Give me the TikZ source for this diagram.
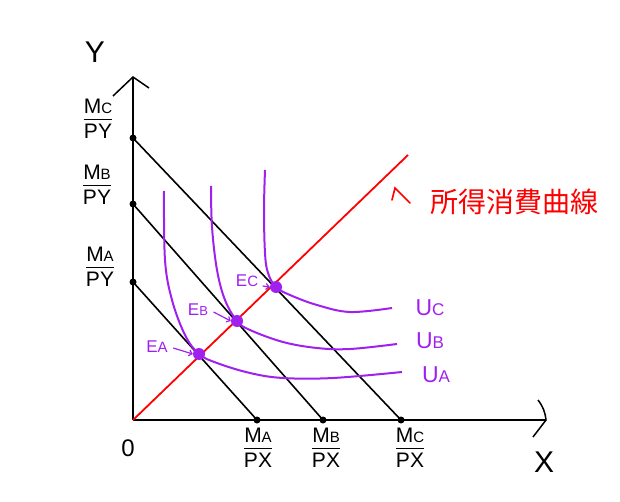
\documentclass[tikz,border=0pt]{standalone}
\usepackage{fontspec}
\setmainfont{Liberation Sans}
\newfontfamily\jpfont{Noto Sans CJK JP}
\usetikzlibrary{arrows.meta}
\definecolor{ipurple}{HTML}{A020F0}
\newcommand{\myfrac}[3]{\begin{tabular}{@{}c@{}}#1{\fontsize{15}{15}\selectfont #2}\\[-1pt]\hline\rule{0pt}{19pt}#3\end{tabular}}
\begin{document}
\begin{tikzpicture}[x=1pt,y=-1pt,
  axis/.style={line width=1.8pt,black},
  budget/.style={line width=1.6pt,black},
  icurve/.style={line width=2pt,ipurple},
  iclabel/.style={text=ipurple,font=\fontsize{23}{23}\selectfont},
  elabel/.style={text=ipurple,font=\fontsize{17}{17}\selectfont},
  adot/.style={circle,fill=black,inner sep=0pt,minimum size=7pt},
  edot/.style={circle,fill=ipurple,inner sep=0pt,minimum size=12pt},
  flabel/.style={font=\fontsize{21}{21}\selectfont,inner sep=0pt},
  earrow/.style={line width=1.2pt,ipurple,-{Straight Barb[length=3pt]}}]
\useasboundingbox (0,0) rectangle (620,502);
% axes
\coordinate (O) at (133,420);
\coordinate (ytop) at (133,77);
\coordinate (xend) at (546,420);
\draw[axis] (O) -- (ytop);
\draw[axis] (O) -- (xend);
\coordinate (ya1) at (113,96);
\coordinate (ya2) at (149,88);
\draw[axis,line width=1.5pt] (ya1) -- (ytop) -- (ya2);
\coordinate (xa1) at (538,400);
\coordinate (xa2) at (533,437);
\draw[axis,line width=1.5pt] (xa1) to[bend left=15] (xend) -- (xa2);
\node[font=\fontsize{30}{30}\selectfont] (ylab) at (95,52) {Y};
\node[font=\fontsize{30}{30}\selectfont] (xlab) at (544,462) {X};
\node[font=\fontsize{24}{24}\selectfont] (zero) at (128,448) {0};
% budget endpoints
\node[adot] (yA) at (133,282) {};
\node[adot] (yB) at (133,204) {};
\node[adot] (yC) at (133,138) {};
\node[adot] (xA) at (257,420) {};
\node[adot] (xB) at (323,420) {};
\node[adot] (xC) at (401,420) {};
\draw[budget] (yA.center) -- (xA.center);
\draw[budget] (yB.center) -- (xB.center);
\draw[budget] (yC.center) -- (xC.center);
% income consumption curve
\coordinate (R) at (408,155);
\draw[red,line width=1.8pt] (O) -- (R);
% indifference curves
\draw[icurve] plot[smooth,tension=0.6] coordinates {(164,191) (165,260) (172,300) (185,335) (199,354) (217,363) (250,373) (283,378) (333,378) (402,372)};
\draw[icurve] plot[smooth,tension=0.6] coordinates {(211,186) (212,227) (217,270) (225,300) (237,321) (250,330) (283,342) (317,348) (350,349) (397,344)};
\draw[icurve] plot[smooth,tension=0.6] coordinates {(265,170) (264,210) (265,253) (268,273) (276,287) (290,295) (317,305) (350,312) (392,308)};
% equilibria
\node[edot] (EA) at (199,354) {};
\node[edot] (EB) at (237,321) {};
\node[edot] (EC) at (276,287) {};
\node[elabel] (EAl) at (157,347) {E{\fontsize{15}{15}\selectfont A}};
\node[elabel] (EBl) at (198,310) {E{\fontsize{13}{13}\selectfont B}};
\node[elabel] (ECl) at (247,281) {E{\fontsize{15}{15}\selectfont C}};
\draw[earrow] (EAl.east) ++(2,1) coordinate (ea0) -- (EA.west);
\draw[earrow] (EBl.east) ++(2,2) coordinate (eb0) -- (EB.west);
\draw[earrow] (ECl.east) ++(1,5) coordinate (ec0) -- (EC.west);
% U labels
\node[iclabel] (UC) at (430,308) {U{\fontsize{17}{17}\selectfont C}};
\node[iclabel] (UB) at (430,341) {U{\fontsize{17}{17}\selectfont B}};
\node[iclabel] (UA) at (436,375) {U{\fontsize{17}{17}\selectfont A}};
% red label
\node[text=red,font=\jpfont\fontsize{28}{28}\selectfont,anchor=west,inner sep=0pt] (icc) at (430,202) {所得消費曲線};
\coordinate (rc) at (395,188);
\coordinate (r1) at (392,200);
\coordinate (r2) at (410,203);
\draw[red,line width=1.6pt,line cap=round] (r1) -- (rc) -- (r2);
% fraction labels
\node[flabel] (fC) at (98,122) {\myfrac{M}{C}{PY}};
\node[flabel] (fB) at (97,188) {\myfrac{M}{B}{PY}};
\node[flabel] (fA) at (100,270) {\myfrac{M}{A}{PY}};
\node[flabel] (gA) at (258,451) {\myfrac{M}{A}{PX}};
\node[flabel] (gB) at (326,451) {\myfrac{M}{B}{PX}};
\node[flabel] (gC) at (410,451) {\myfrac{M}{C}{PX}};
\end{tikzpicture}
\end{document}
